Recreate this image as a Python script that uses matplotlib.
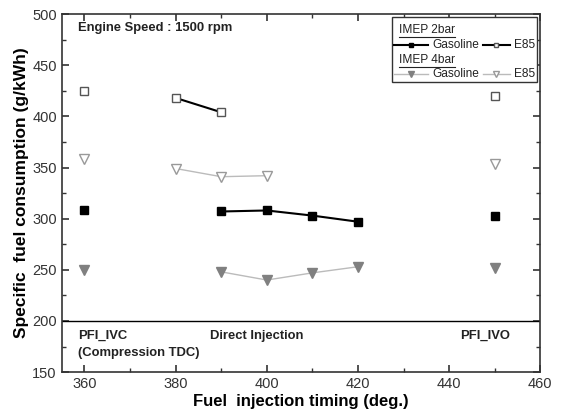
import numpy as np
import matplotlib.pyplot as plt
from matplotlib.ticker import MultipleLocator

plt.rcParams['font.family'] = ['Liberation Sans', 'DejaVu Sans']

nan = np.nan
timing = [360, 380, 390, 400, 410, 420, 450]

# IMEP 2 bar
gas_2bar = [308, nan, 307, 308, 303, 297, 303]
e85_2bar = [425, 418, 404, nan, nan, nan, 420]
# IMEP 4 bar
gas_4bar = [250, nan, 248, 240, 247, 253, 252]
e85_4bar = [358, 349, 341, 342, nan, nan, 353]


def split(x, y):
    # the PFI points stand alone, only the direct injection points are joined
    x = np.array(x, float)
    y = np.array(y, float)
    di = (x > 370) & (x < 440)
    return x[di], y[di], x[~di], y[~di]


fig = plt.figure(figsize=(5.61, 4.13), dpi=100)
ax = fig.add_axes([0.11, 0.099, 0.853, 0.867])

styles = [
    (gas_2bar, dict(color='black', lw=1.5), dict(marker='s', ms=5.5, mfc='black', mec='black')),
    (e85_2bar, dict(color='black', lw=1.5), dict(marker='s', ms=5.5, mfc='white', mec='#555555')),
    (gas_4bar, dict(color='#bbbbbb', lw=1.0), dict(marker='v', ms=6.5, mfc='#808080', mec='#808080')),
    (e85_4bar, dict(color='#bbbbbb', lw=1.0), dict(marker='v', ms=6.5, mfc='white', mec='#999999')),
]
for y, lstyle, mstyle in styles:
    xd, yd, xp, yp = split(timing, y)
    ok = ~np.isnan(yd)
    ax.plot(xd[ok], yd[ok], zorder=2, **lstyle)
    ax.plot(xd[ok], yd[ok], ls='none', zorder=3, **mstyle)
    okp = ~np.isnan(yp)
    ax.plot(xp[okp], yp[okp], ls='none', zorder=3, **mstyle)

ax.axhline(200, color='black', lw=1.0)

ax.set_xlim(355, 460)
ax.set_ylim(150, 500)
ax.xaxis.set_major_locator(MultipleLocator(20))
ax.xaxis.set_minor_locator(MultipleLocator(10))
ax.yaxis.set_major_locator(MultipleLocator(50))
ax.yaxis.set_minor_locator(MultipleLocator(25))
ax.tick_params(which='both', direction='in', top=True, right=True, labelsize=10.5, colors='#333333')
ax.tick_params(which='major', length=5, width=1.2)
ax.tick_params(which='minor', length=3, width=1.0)
for s in ax.spines.values():
    s.set_linewidth(1.2)
    s.set_color('#333333')

ax.set_xlabel('Fuel  injection timing (deg.)', fontsize=12, fontweight='bold', labelpad=2)
ax.set_ylabel('Specific  fuel consumption (g/kWh)', fontsize=12.5, fontweight='bold', labelpad=2)

tb = dict(fontsize=9.4, fontweight='bold', color='#222222')
ax.text(358.5, 486, 'Engine Speed : 1500 rpm', va='center', **tb)
ax.text(358.5, 185.5, 'PFI_IVC', va='center', **tb)
ax.text(358.5, 168.5, '(Compression TDC)', va='center', **tb)
ax.text(387.6, 185.5, 'Direct Injection', va='center', **tb)
ax.text(442.5, 185.5, 'PFI_IVO', va='center', **tb)

# legend box
T = ax.transAxes
ax.add_patch(plt.Rectangle((0.690, 0.81), 0.304, 0.181, transform=T, fill=True,
                           fc='white', ec='#333333', lw=1.0, zorder=4))
lt = dict(fontsize=8.6, color='#222222', va='center', transform=T, zorder=5)
ax.text(0.705, 0.955, 'IMEP 2bar', **lt)
ax.text(0.705, 0.872, 'IMEP 4bar', **lt)
ax.plot([0.705, 0.822], [0.955 - 0.02] * 2, color='#222222', lw=0.8, transform=T, zorder=5)
ax.plot([0.705, 0.822], [0.872 - 0.02] * 2, color='#222222', lw=0.8, transform=T, zorder=5)
rows = [(0.914, styles[0], styles[1]), (0.833, styles[2], styles[3])]
for yy, sg, se in rows:
    for x0, x1, st, label in [(0.695, 0.765, sg, 'Gasoline'), (0.880, 0.936, se, 'E85')]:
        ax.plot([x0, x1], [yy, yy], transform=T, zorder=5, **st[1])
        ax.plot([(x0 + x1) / 2], [yy], transform=T, zorder=6, ls='none',
                **{**st[2], 'ms': st[2]['ms'] - 2})
        ax.text(x1 + 0.01, yy, label, **lt)

fig.savefig('out.png', dpi=100)
